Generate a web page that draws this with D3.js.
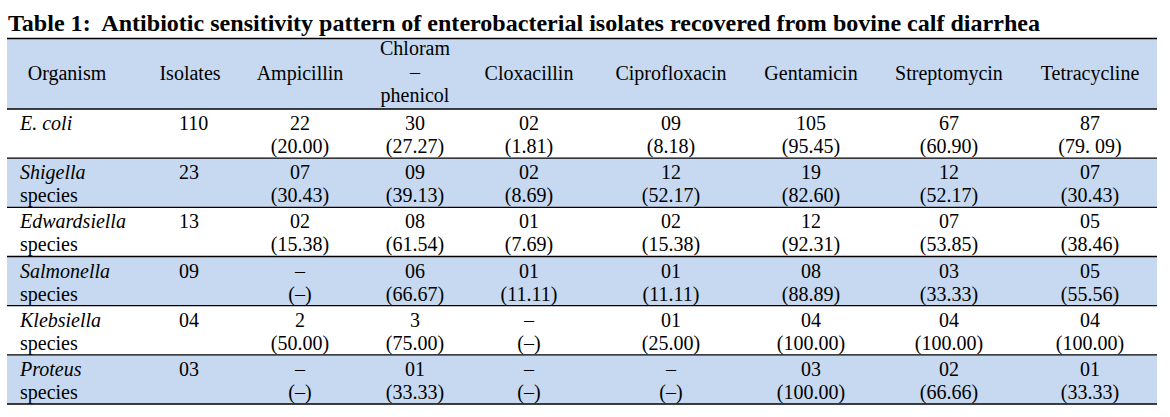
<!DOCTYPE html>
<html>
<head>
<meta charset="utf-8">
<script src="https://cdn.jsdelivr.net/npm/d3@7"></script>
<style>
  html, body { margin: 0; padding: 0; background: #fff; }
  svg { display: block; }
  text { font-family: "Liberation Serif", "Times New Roman", serif; fill: #000; }
</style>
</head>
<body>
<svg id="chart" width="1170" height="417"></svg>
<script>
// ---------- data ----------
const title = "Table 1:  Antibiotic sensitivity pattern of enterobacterial isolates recovered from bovine calf diarrhea";
const organisms = ["E. coli", "Shigella", "Edwardsiella", "Salmonella", "Klebsiella", "Proteus"];
const organismSuffix = ["", "species", "species", "species", "species", "species"];
const isolates = ["110", "23", "13", "09", "04", "03"];
const antibiotics = ["Ampicillin", "Chloramphenicol", "Cloxacillin", "Ciprofloxacin", "Gentamicin", "Streptomycin", "Tetracycline"];
const antibioticHeaderLines = [["Ampicillin"], ["Chloram", "–", "phenicol"], ["Cloxacillin"], ["Ciprofloxacin"], ["Gentamicin"], ["Streptomycin"], ["Tetracycline"]];
// sensitive counts per organism (rows) x antibiotic (columns)
const counts = [
  ["22", "30", "02", "09", "105", "67", "87"],
  ["07", "09", "02", "12", "19", "12", "07"],
  ["02", "08", "01", "02", "12", "07", "05"],
  ["–", "06", "01", "01", "08", "03", "05"],
  ["2", "3", "–", "01", "04", "04", "04"],
  ["–", "01", "–", "–", "03", "02", "01"]
];
// percentages per organism x antibiotic
const percents = [
  ["20.00", "27.27", "1.81", "8.18", "95.45", "60.90", "79. 09"],
  ["30.43", "39.13", "8.69", "52.17", "82.60", "52.17", "30.43"],
  ["15.38", "61.54", "7.69", "15.38", "92.31", "53.85", "38.46"],
  ["–", "66.67", "11.11", "11.11", "88.89", "33.33", "55.56"],
  ["50.00", "75.00", "–", "25.00", "100.00", "100.00", "100.00"],
  ["–", "33.33", "–", "–", "100.00", "66.66", "33.33"]
];

// ---------- layout ----------
const L = {
  left: 7, right: 1157, top: 38.5, headerBottom: 109, bottom: 404,
  fontSize: 20, fill: "#c6d9f0", stroke: "#000"
};
const colCenters = [300, 415, 529, 671, 811, 949, 1090];

const svg = d3.select("#chart");

const y = d3.scaleBand().domain(organisms).range([L.headerBottom, L.bottom]).padding(0);
const xAb = d3.scaleOrdinal().domain(antibiotics).range(colCenters);

// backgrounds
svg.append("rect")
  .attr("x", L.left).attr("y", L.top)
  .attr("width", L.right - L.left).attr("height", L.headerBottom - L.top)
  .attr("fill", L.fill);

svg.selectAll("rect.row").data(organisms).enter().append("rect")
  .attr("class", "row")
  .attr("x", L.left).attr("y", d => y(d))
  .attr("width", L.right - L.left).attr("height", y.bandwidth())
  .attr("fill", (d, i) => i % 2 === 1 ? L.fill : "#fff");

// title
const t = svg.append("text")
  .attr("x", 8).attr("y", 31)
  .attr("font-size", 23).attr("font-weight", "bold")
  .style("white-space", "pre")
  .attr("xml:space", "preserve")
  .text(title);
t.attr("textLength", 1032).attr("lengthAdjust", "spacingAndGlyphs");

// horizontal lines
const lineYs = [L.top, L.headerBottom].concat(organisms.map(d => y(d) + y.bandwidth()));
svg.selectAll("line.h").data(lineYs).enter().append("line")
  .attr("class", "h")
  .attr("x1", L.left).attr("x2", L.right)
  .attr("y1", d => d).attr("y2", d => d)
  .attr("stroke", L.stroke).attr("stroke-width", 1.4);

// header
const hdr = svg.append("g").attr("font-size", L.fontSize);
hdr.append("text").attr("x", 67).attr("y", 80).attr("text-anchor", "middle").text("Organism");
hdr.append("text").attr("x", 190).attr("y", 80).attr("text-anchor", "middle").text("Isolates");
antibiotics.forEach((ab, i) => {
  const lines = antibioticHeaderLines[i];
  const n = lines.length;
  lines.forEach((ln, j) => {
    const base = n === 1 ? 80 : 55 + j * 23.5;
    hdr.append("text")
      .attr("x", xAb(ab)).attr("y", base)
      .attr("text-anchor", "middle")
      .text(ln);
  });
});

// body rows
const rows = svg.selectAll("g.rowtext").data(organisms).enter().append("g")
  .attr("class", "rowtext")
  .attr("font-size", L.fontSize)
  .attr("transform", d => `translate(0,${y(d)})`);

rows.append("text")
  .attr("x", 20).attr("y", 21)
  .attr("font-style", "italic")
  .text(d => d);
rows.append("text")
  .attr("x", 20).attr("y", 44)
  .text((d, i) => organismSuffix[i]);
rows.append("text")
  .attr("x", 179).attr("y", 21)
  .text((d, i) => isolates[i]);

rows.each(function (d, i) {
  const g = d3.select(this);
  antibiotics.forEach((ab, j) => {
    g.append("text")
      .attr("x", xAb(ab)).attr("y", 21)
      .attr("text-anchor", "middle")
      .text(counts[i][j]);
    g.append("text")
      .attr("x", xAb(ab)).attr("y", 44)
      .attr("text-anchor", "middle")
      .text("(" + percents[i][j] + ")");
  });
});
</script>
</body>
</html>
